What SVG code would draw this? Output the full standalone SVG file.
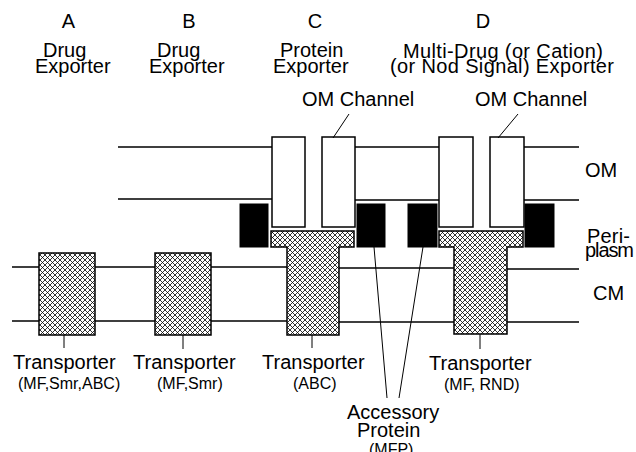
<svg xmlns="http://www.w3.org/2000/svg" width="636" height="452" viewBox="0 0 636 452">
<style>
  text { font-family: "Liberation Sans", Arial, sans-serif; fill: #000; }
  .t20 { font-size: 20px; }
  .t16 { font-size: 16px; }
  .mem { stroke: #000; stroke-width: 1.3; fill: none; }
  .lead { stroke: #000; stroke-width: 1; fill: none; }
  .chan { fill: #fff; stroke: #000; stroke-width: 1.5; }
  .acc { fill: #000; stroke: #000; stroke-width: 1; }
  .tr { fill: url(#hatch); stroke: #000; stroke-width: 1.5; }
</style>
<defs>
  <pattern id="hatch" patternUnits="userSpaceOnUse" width="5" height="5">
    <rect width="5" height="5" fill="#fff"/>
    <path d="M0,0 L5,5 M5,0 L0,5 M-1,4 L1,6 M4,-1 L6,1 M-1,1 L1,-1 M4,6 L6,4" stroke="#000" stroke-width="0.8"/>
  </pattern>
</defs>
<rect width="636" height="452" fill="#fff"/>

<g id="membranes">
  <path class="mem" d="M118,147 H272 M355,147 H439 M524,147 H579"/>
  <path class="mem" d="M118,199 H272 M355,200 H439 M524,200 H579"/>
  <path class="mem" d="M12,267 H39 M95,267 H155 M211,267 H287 M339,268 H454 M507,269 H579"/>
  <path class="mem" d="M12,321 H39 M95,321 H155 M211,321 H287 M339,322 H454 M507,322 H579"/>
</g>

<g id="exporter-A">
  <rect class="tr" x="39" y="253" width="56" height="82"/>
</g>
<g id="exporter-B">
  <rect class="tr" x="155" y="253" width="56" height="82"/>
</g>
<g id="exporter-C">
  <rect class="chan" x="272" y="137" width="33" height="90"/>
  <rect class="chan" x="322" y="137" width="33" height="90"/>
  <path class="tr" d="M271,231 H354 V247 H339 V335 H287 V247 H271 Z"/>
  <rect class="acc" x="240" y="204" width="28" height="43"/>
  <rect class="acc" x="357" y="204" width="28" height="43"/>
</g>
<g id="exporter-D">
  <rect class="chan" x="439" y="137" width="34" height="90"/>
  <rect class="chan" x="490" y="137" width="34" height="90"/>
  <path class="tr" d="M439,231 H523 V247 H507 V334 H454 V247 H439 Z"/>
  <rect class="acc" x="408" y="204" width="29" height="43"/>
  <rect class="acc" x="525" y="204" width="29" height="43"/>
</g>

<g id="connectors">
  <line class="lead" x1="349" y1="114" x2="333" y2="138"/>
  <line class="lead" x1="518" y1="114" x2="498" y2="138"/>
  <line class="lead" x1="64" y1="335" x2="64" y2="348"/>
  <line class="lead" x1="183" y1="335" x2="183" y2="349"/>
  <line class="lead" x1="312" y1="335" x2="312" y2="348"/>
  <line class="lead" x1="480" y1="334" x2="480" y2="349"/>
  <line class="lead" x1="374" y1="247" x2="387" y2="398"/>
  <line class="lead" x1="423" y1="247" x2="399" y2="398"/>
</g>

<g id="labels">
  <text class="t20" x="68.5" y="28" text-anchor="middle">A</text>
  <text class="t20" x="43" y="57">Drug</text>
  <text class="t20" x="35" y="73">Exporter</text>
  <text class="t20" x="189" y="28" text-anchor="middle">B</text>
  <text class="t20" x="157" y="57">Drug</text>
  <text class="t20" x="149" y="73">Exporter</text>
  <text class="t20" x="315" y="28" text-anchor="middle">C</text>
  <text class="t20" x="280" y="57">Protein</text>
  <text class="t20" x="273" y="73">Exporter</text>
  <text class="t20" x="483" y="28" text-anchor="middle">D</text>
  <text class="t20" x="403" y="58" textLength="200">Multi-Drug (or Cation)</text>
  <text class="t20" x="390" y="73" textLength="224">(or Nod Signal) Exporter</text>
  <text class="t20" x="302" y="106">OM Channel</text>
  <text class="t20" x="475" y="106">OM Channel</text>
  <text class="t20" x="585" y="177">OM</text>
  <text class="t20" x="587" y="243" textLength="43">Peri-</text>
  <text class="t20" x="585" y="257" textLength="49">plasm</text>
  <text class="t20" x="593" y="300">CM</text>
  <text class="t20" x="13" y="369">Transporter</text>
  <text class="t16" x="18" y="389">(MF,Smr,ABC)</text>
  <text class="t20" x="133" y="369">Transporter</text>
  <text class="t16" x="157" y="389">(MF,Smr)</text>
  <text class="t20" x="262" y="369">Transporter</text>
  <text class="t16" x="293" y="389">(ABC)</text>
  <text class="t20" x="429" y="370">Transporter</text>
  <text class="t16" x="444" y="390">(MF, RND)</text>
  <text class="t20" x="347" y="419">Accessory</text>
  <text class="t20" x="357" y="437">Protein</text>
  <text class="t16" x="369" y="455">(MFP)</text>
</g>
</svg>
